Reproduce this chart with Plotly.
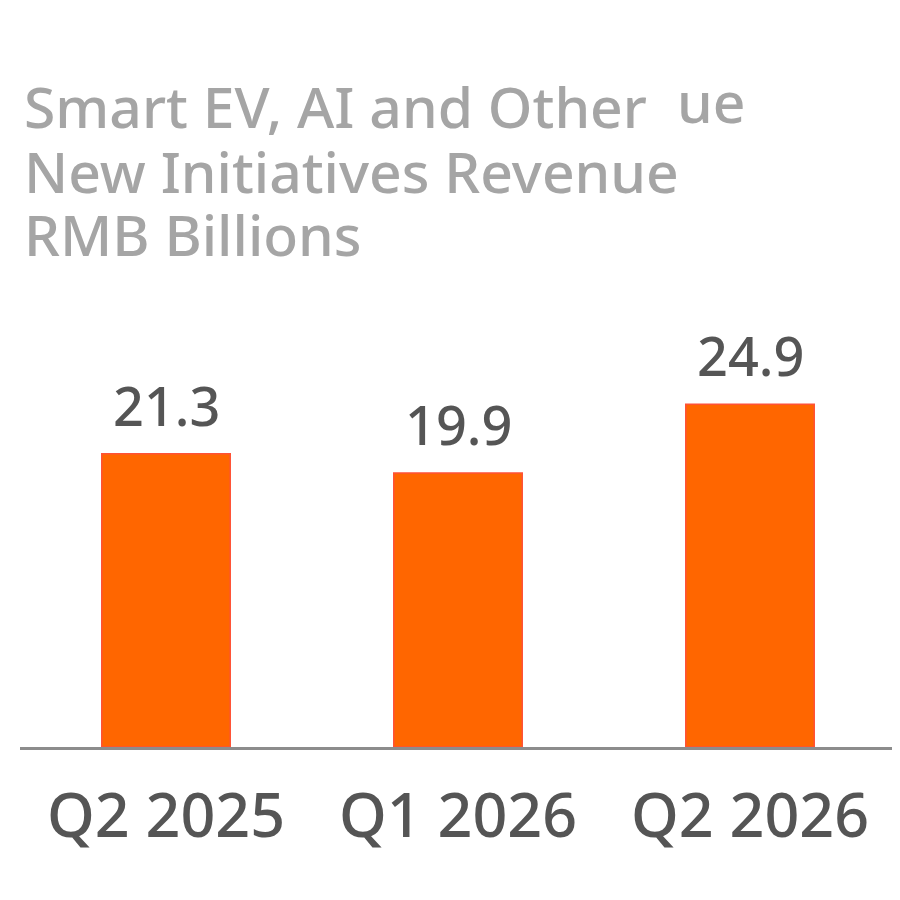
import plotly.graph_objects as go

categories = ["Q2 2025", "Q1 2026", "Q2 2026"]
revenue = [21.3, 19.9, 24.9]
value_labels = ["21.3", "19.9", "24.9"]
title_lines = ["Smart EV, AI and Other", "New Initiatives Revenue", "RMB Billions"]
title_fragment = "ue"

FONT = "Noto Sans"
W, H = 900, 900
L, R, T, B = 12, 12, 326, 161
plot_h = H - T - B
plot_w = W - L - R

def py(pix):
    return (H - B - pix) / plot_h

def px(pix):
    return (pix - L) / plot_w

fig = go.Figure()
fig.add_trace(go.Bar(
    x=list(range(len(categories))),
    y=revenue,
    width=0.44,
    marker=dict(color="#FF6600", line=dict(color="#FF5236", width=1.5)),
    hoverinfo="skip",
))

annotations = []
for i, (v, lab) in enumerate(zip(revenue, value_labels)):
    annotations.append(dict(
        x=i, y=v, xref="x", yref="y", text=lab, showarrow=False,
        yanchor="bottom", yshift=10,
        font=dict(family=FONT, size=54, weight=500, color="#555555"),
    ))

title_font = dict(family=FONT, size=57, weight=500, color="#A5A5A5")
title_y = [98, 163, 226]
for line, yp in zip(title_lines, title_y):
    annotations.append(dict(
        x=px(15), y=py(yp), xref="paper", yref="paper", text=line,
        showarrow=False, xanchor="left", yanchor="middle", font=title_font,
        height=60, valign="middle", borderpad=0,
    ))
annotations.append(dict(
    x=px(668), y=py(93), xref="paper", yref="paper", text=title_fragment,
    showarrow=False, xanchor="left", yanchor="middle", font=title_font,
    height=60, valign="middle", borderpad=0,
))

fig.update_layout(
    width=W, height=H,
    margin=dict(l=L, r=R, t=T, b=B),
    paper_bgcolor="white", plot_bgcolor="white",
    showlegend=False,
    annotations=annotations,
    xaxis=dict(
        range=[-0.5, 2.5],
        tickmode="array", tickvals=list(range(len(categories))), ticktext=categories,
        showline=True, linecolor="#8C8C8C", linewidth=3,
        showgrid=False, zeroline=False, ticks="",
        tickfont=dict(family=FONT, size=61, weight=500, color="#555555"),
        ticklabelstandoff=14,
    ),
    yaxis=dict(range=[0, 30], visible=False, showgrid=False, zeroline=False),
)

fig.write_html("out.html")
